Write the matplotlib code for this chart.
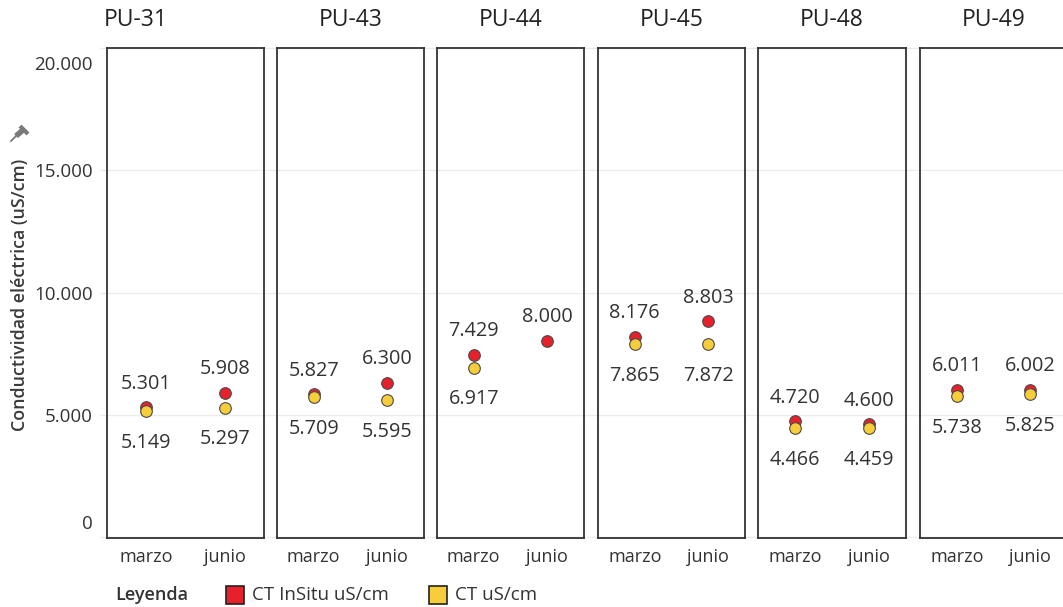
import numpy as np
import matplotlib
matplotlib.use("Agg")
import matplotlib.pyplot as plt
from matplotlib.lines import Line2D
from matplotlib.patches import Rectangle
from matplotlib.transforms import blended_transform_factory, ScaledTranslation

plt.rcParams['font.family'] = ['Open Sans', 'DejaVu Sans']

# ---- data ----
stations = ["PU-31", "PU-43", "PU-44", "PU-45", "PU-48", "PU-49"]
months = ["marzo", "junio"]
ct_insitu = [
    [5301, 5908],
    [5827, 6300],
    [7429, 8000],
    [8176, 8803],
    [4720, 4600],
    [6011, 6002],
]
ct_lab = [
    [5149, 5297],
    [5709, 5595],
    [6917, np.nan],
    [7865, 7872],
    [4466, 4459],
    [5738, 5825],
]
y_ticks = [0, 5000, 10000, 15000, 20000]
series_names = ["CT InSitu uS/cm", "CT uS/cm"]
y_title = "Conductividad eléctrica (uS/cm)"
legend_title = "Leyenda"

RED = "#E8202B"
YELLOW = "#F7CD3A"
EDGE = "#4a4a4a"
TEXT = "#333333"

W, H = 1063, 607
fig = plt.figure(figsize=(W / 100, H / 100), dpi=100)


def fx(px):
    return px / W


def fy(py):
    return 1 - py / H


def fmt(v):
    return f"{int(round(v)):,}".replace(",", ".")


panel_left = [107, 277, 437, 598, 758, 920]
panel_width = [157, 147, 147, 147, 148, 147]
panel_top, panel_bottom = 48, 538
title_x = [136, None, None, None, None, None]

axes = []
for i, name in enumerate(stations):
    ax = fig.add_axes([fx(panel_left[i]), fy(panel_bottom),
                       panel_width[i] / W, (panel_bottom - panel_top) / H])
    ax.set_facecolor("none")
    ax.set_xlim(-0.5, 1.5)
    ax.set_ylim(-40, 19960)
    for sp in ax.spines.values():
        sp.set_color("#333333")
        sp.set_linewidth(1.3)
    ax.set_xticks(range(len(months)))
    ax.set_xticklabels(months, fontsize=13, color=TEXT)
    ax.tick_params(axis="x", length=0, pad=7)
    if i == 0:
        ax.set_yticks(y_ticks)
        ax.set_yticklabels([fmt(v) for v in y_ticks], fontsize=13.5, color=TEXT)
        ax.tick_params(axis="y", length=0, pad=10)
        labels = ax.get_yticklabels()
        labels[0].set_transform(labels[0].get_transform() +
                                ScaledTranslation(0, 0.15, fig.dpi_scale_trans))
        labels[-1].set_transform(labels[-1].get_transform() +
                                 ScaledTranslation(0, -0.15, fig.dpi_scale_trans))
    else:
        ax.set_yticks([])

    xs = np.arange(len(months))
    red = np.array(ct_insitu[i], dtype=float)
    yel = np.array(ct_lab[i], dtype=float)
    ax.scatter(xs, red, s=70, color=RED, edgecolor=EDGE, linewidth=0.8, zorder=3)
    ax.scatter(xs, yel, s=70, color=YELLOW, edgecolor=EDGE, linewidth=0.8, zorder=4)
    for x, v in zip(xs, red):
        if np.isfinite(v):
            ax.annotate(fmt(v), (x, v), xytext=(0, 17), textcoords="offset points",
                        ha="center", va="center", fontsize=14.3, color=TEXT, zorder=5)
    for x, v in zip(xs, yel):
        if np.isfinite(v):
            ax.annotate(fmt(v), (x, v), xytext=(0, -23), textcoords="offset points",
                        ha="center", va="center", fontsize=14.3, color=TEXT, zorder=5)

    tx = title_x[i] if title_x[i] is not None else panel_left[i] + panel_width[i] / 2
    fig.text(fx(tx), fy(20), name, ha="center", va="center", fontsize=16.5,
             color="#222222")
    axes.append(ax)

# light horizontal grid running behind all panels
grid_tr = blended_transform_factory(fig.transFigure, axes[0].transData)
for v in y_ticks:
    fig.add_artist(Line2D([fx(100), 1.0], [v, v], transform=grid_tr,
                          color="#ececec", linewidth=1, zorder=-1))

# y axis title and pin icon
fig.text(fx(20), fy(295), y_title, rotation=90, ha="center", va="center",
         fontsize=12.9, fontweight="semibold", color="#3a3a3a")
pin_c = "#7a7a7a"
fig.add_artist(Line2D([fx(11), fx(17)], [fy(141), fy(135)], color=pin_c, lw=1.3))
fig.add_artist(Line2D([fx(16), fx(23)], [fy(136), fy(130)], color=pin_c, lw=4,
                      solid_capstyle="butt"))
fig.add_artist(Line2D([fx(20), fx(28)], [fy(126), fy(134)], color=pin_c, lw=3,
                      solid_capstyle="butt"))

# legend
fig.text(fx(115), fy(595), legend_title, ha="left", va="center", fontsize=13,
         fontweight="semibold", color=TEXT)
for left, color, label in [(226, RED, series_names[0]), (429, YELLOW, series_names[1])]:
    fig.add_artist(Rectangle((fx(left), fy(604)), 18 / W, 18 / H,
                             transform=fig.transFigure, facecolor=color,
                             edgecolor="#222222", linewidth=1.2))
    fig.text(fx(left + 26), fy(595), label, ha="left", va="center", fontsize=13.5,
             color=TEXT)

fig.savefig("out.png", dpi=100)
